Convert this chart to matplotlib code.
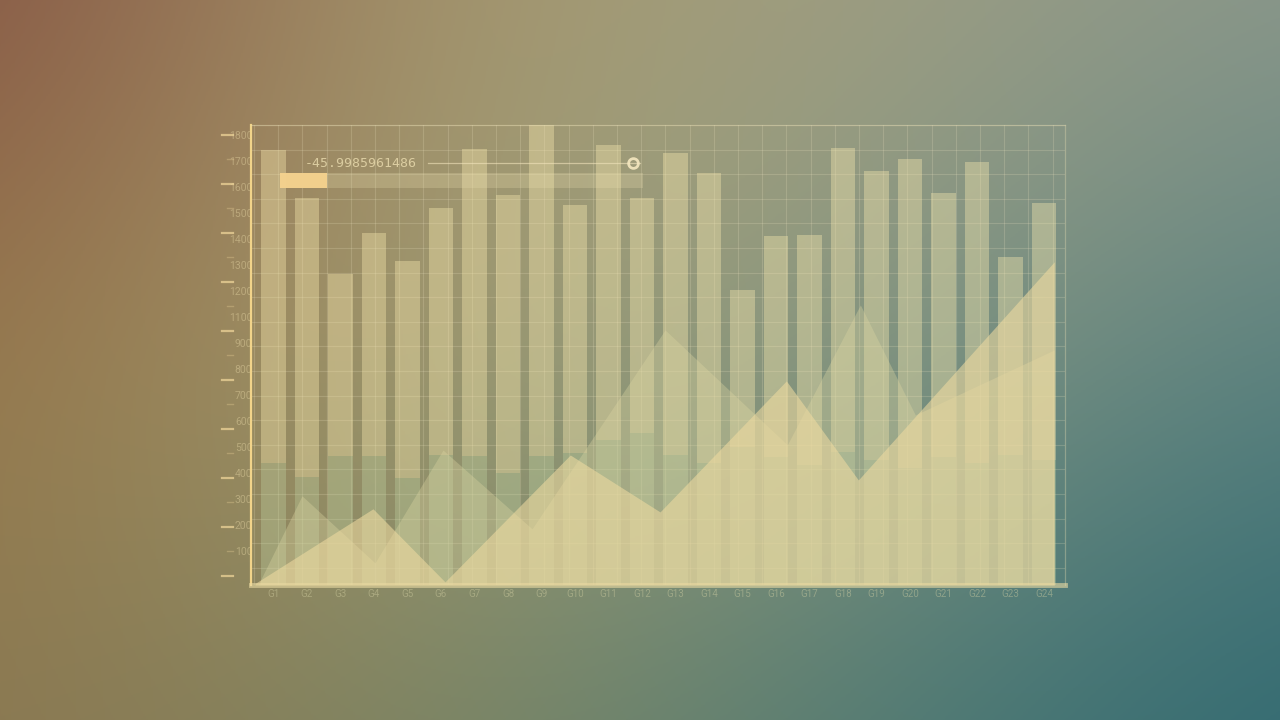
import numpy as np
import matplotlib.pyplot as plt
import matplotlib.transforms as mtransforms
from matplotlib.patches import Rectangle
from matplotlib.ticker import MultipleLocator

# ---- data ----
groups = [f"G{i}" for i in range(1, 25)]
bar_totals = [1642, 1458, 1165, 1323, 1215, 1419, 1646, 1469, 1760, 1431, 1662, 1458,
              1631, 1554, 1104, 1312, 1315, 1650, 1562, 1608, 1477, 1596, 1231, 1438]
bar_lower = [438, 385, 465, 465, 381, 469, 465, 400, 465, 477, 527, 554,
             470, 440, 500, 460, 430, 480, 450, 420, 460, 440, 470, 450]

# two area series (x in group-index units)
front_x = [-0.55, 2.97, 5.12, 8.86, 11.54, 15.31, 17.46, 23.31]
front_y = [-25, 262, -19, 469, 250, 754, 373, 1212]
back_x = [-0.46, 0.85, 3.03, 5.06, 7.72, 11.69, 15.34, 17.52, 19.16, 23.31]
back_y = [-31, 312, 54, 488, 185, 950, 508, 1046, 623, 873]

ytick_pos = list(range(0, 1800, 100))
ytick_labels = ["", "100", "200", "300", "400", "500", "600", "700", "800", "900",
                "1100", "1200", "1300", "1400", "1500", "1600", "1700", "1800"]

readout_text = "-45.9985961486"
slider_frac = 0.13

Y0 = -31  # bottom of the value axis

fig = plt.figure(figsize=(12.8, 7.2), dpi=100)

# background gradient
bg_colors = np.array([
    [[0x84, 0x50, 0x42], [0xa6, 0x98, 0x6c], [0xa2, 0x9f, 0x82], [0x8c, 0x98, 0x8c]],
    [[0x98, 0x7a, 0x4a], [0xa8, 0xa2, 0x74], [0x8b, 0x9b, 0x86], [0x55, 0x7f, 0x7e]],
    [[0x8a, 0x76, 0x50], [0x7d, 0x85, 0x62], [0x4f, 0x7a, 0x74], [0x2b, 0x66, 0x70]],
]) / 255
bax = fig.add_axes([0, 0, 1, 1], zorder=-5)
bax.imshow(bg_colors, extent=(-1 / 6, 7 / 6, -0.25, 1.25), interpolation="bicubic",
           aspect="auto", origin="upper")
bax.set_xlim(0, 1)
bax.set_ylim(0, 1)
bax.axis("off")

rect = [251 / 1280, 135 / 720, 814 / 1280, 460 / 720]

# faint square grid behind everything
gax = fig.add_axes(rect, zorder=1)
gax.patch.set_visible(False)
gax.set_xlim(-3 / 24.2, 814 / 24.2 - 3 / 24.2)
gax.set_ylim(460 / 24.6, 0)
gax.xaxis.set_major_locator(MultipleLocator(1))
gax.yaxis.set_major_locator(MultipleLocator(1))
gax.grid(True, color="#f2e8c4", alpha=0.2, lw=0.8)
gax.tick_params(length=0, labelbottom=False, labelleft=False)
for s in gax.spines.values():
    s.set_visible(False)

ax = fig.add_axes(rect, zorder=2)
ax.patch.set_visible(False)
x = np.arange(len(groups))
low = np.array(bar_lower)
tot = np.array(bar_totals)
ax.bar(x, low - Y0, bottom=Y0, width=0.73, color="#c4d8a6", alpha=0.33, zorder=2)
ax.bar(x, tot - low, bottom=low, width=0.73, color="#faebb0", alpha=0.38, zorder=2)

ax.fill_between(back_x, Y0, back_y, color="#dcd6a2", alpha=0.36, lw=0, zorder=3)
ax.fill_between(front_x, Y0, front_y, color="#eedaa0", alpha=0.58, lw=0, zorder=4)

ax.set_xlim(-0.672, 23.63)
ax.set_ylim(Y0, 1738)
ax.set_xticks(x, groups)
ax.set_yticks(ytick_pos, ytick_labels)
ax.tick_params(axis="x", length=0, pad=3, labelsize=7, labelcolor=(0.86, 0.84, 0.66, 0.4))
ax.tick_params(axis="y", length=0, pad=-1, labelsize=7.5, labelcolor=(0.92, 0.86, 0.66, 0.42))
for lbl in ax.get_xticklabels() + ax.get_yticklabels():
    lbl.set_fontfamily("Roboto")

ax.spines["left"].set_color("#f2d48a")
ax.spines["left"].set_linewidth(1.6)
ax.spines["bottom"].set_color("#ecdca4")
ax.spines["bottom"].set_linewidth(3.5)
ax.spines["bottom"].set_alpha(0.6)
for side in ["top", "right"]:
    ax.spines[side].set_color("#eadfb4")
    ax.spines[side].set_linewidth(0.9)
    ax.spines[side].set_alpha(0.35)

# little dashes left of the value labels
trans = mtransforms.blended_transform_factory(ax.transAxes, ax.transAxes)
for k, yy in enumerate(0.0196 + 0.05326 * np.arange(19)):
    if k % 2 == 0:
        ax.plot([-0.0356, -0.022], [yy, yy], transform=trans, clip_on=False,
                color="#f3d99c", lw=1.6, alpha=0.7)
    else:
        ax.plot([-0.030, -0.022], [yy, yy], transform=trans, clip_on=False,
                color="#f3d99c", lw=1.0, alpha=0.3)

# readout + slider widget
ax.text(0.0663, 0.917, readout_text, transform=ax.transAxes, ha="left", va="center",
        fontfamily="DejaVu Sans Mono", fontsize=9.5, color="#f0e2b4", alpha=0.75, zorder=6)
ax.plot([0.2174, 0.478], [0.917, 0.917], transform=ax.transAxes, color="#f2e4bc",
        lw=0.9, alpha=0.6, zorder=6)
ax.plot([0.469], [0.917], "o", transform=ax.transAxes, ms=7, mfc="none",
        mec="#f6e8c0", mew=2, alpha=0.9, zorder=6)
ax.add_patch(Rectangle((0.0356, 0.863), 0.446, 0.033, transform=ax.transAxes,
                       color="#ece0b0", alpha=0.25, lw=0, zorder=5))
ax.add_patch(Rectangle((0.0356, 0.863), 0.446 * slider_frac, 0.033, transform=ax.transAxes,
                       color="#f5d28e", alpha=0.95, lw=0, zorder=6))

fig.savefig("out.png", dpi=100)
